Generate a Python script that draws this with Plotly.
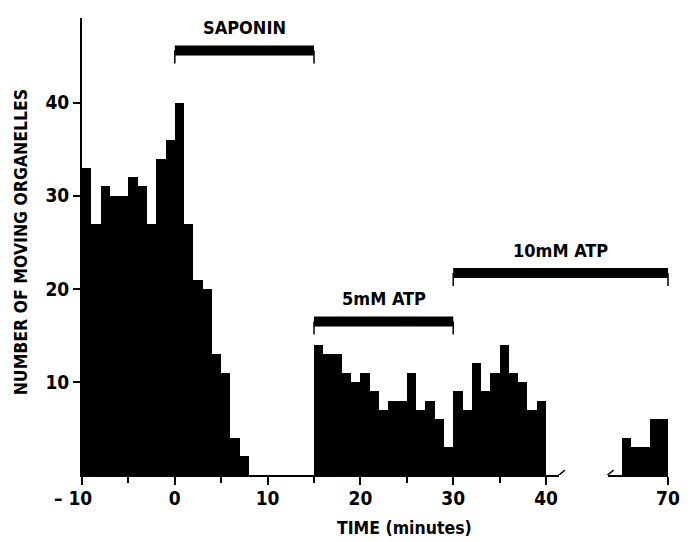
import plotly.graph_objects as go

# ---------------- data ----------------
bin_start_early = list(range(-10, 40))          # 1-min bins before the axis break
counts_early = [33, 27, 31, 30, 30, 32, 31, 27, 34, 36,
                40, 27, 21, 20, 13, 11, 4, 2,
                0, 0, 0, 0, 0, 0, 0,
                14, 13, 13, 11, 10, 11, 9, 7, 8, 8, 11, 7, 8, 6, 3,
                9, 7, 12, 9, 11, 14, 11, 10, 7, 8]
bin_start_late = [65, 66, 67, 68, 69]          # 1-min bins after the axis break
counts_late = [4, 3, 3, 6, 6]

treatment_names = ["SAPONIN", "5mM ATP", "10mM ATP"]
treatment_start = [0, 15, 30]
treatment_end = [15, 30, 70]

x_tick_vals_early = [-10, 0, 10, 20, 30, 40]
x_tick_text_early = ["\u2013 10\u00a0\u00a0\u00a0", "0", "10", "20", "30", "40"]
x_minor_vals = [-5, 5, 15, 25, 35]
x_tick_vals_late = [70]
x_tick_text_late = ["70"]
y_tick_vals = [10, 20, 30, 40]
y_tick_text = ["10", "20", "30", "40"]

# ---------------- layout constants ----------------
W, H = 692, 542
M_L, M_R, M_T, M_B = 82, 19, 18, 67
PX_PER_MIN = 9.36
X1_RANGE = [-10, 41.4]
X2_RANGE = [63.5, 70]
Y_RANGE = [0, 49.1]
plot_w = W - M_L - M_R
D1 = [0, (X1_RANGE[1] - X1_RANGE[0]) * PX_PER_MIN / plot_w]
D2 = [1 - (X2_RANGE[1] - X2_RANGE[0]) * PX_PER_MIN / plot_w, 1]

bar_levels = [45.6, 16.5, 21.7]
label_levels = [48.1, 19.0, 24.1]

FONT = "Liberation Sans Narrow, Arial Narrow, DejaVu Sans Condensed, sans-serif"
INK = "black"


def axis_for(t):
    return ("x", X1_RANGE, D1) if t <= X1_RANGE[1] else ("x2", X2_RANGE, D2)


def to_paper(t):
    _, r, d = axis_for(t)
    return d[0] + (t - r[0]) / (r[1] - r[0]) * (d[1] - d[0])


fig = go.Figure()
fig.add_trace(go.Bar(x=[s + 0.5 for s in bin_start_early], y=counts_early, width=1,
                     marker=dict(color=INK, line=dict(width=0)), xaxis="x", yaxis="y",
                     showlegend=False))
fig.add_trace(go.Bar(x=[s + 0.5 for s in bin_start_late], y=counts_late, width=1,
                     marker=dict(color=INK, line=dict(width=0)), xaxis="x2", yaxis="y",
                     showlegend=False))

shapes = []
annotations = []
for name, s, e, lv, ll in zip(treatment_names, treatment_start, treatment_end,
                              bar_levels, label_levels):
    ax_s = axis_for(s)[0]
    ax_e = axis_for(e)[0]
    if ax_s == ax_e:
        xref, x0, x1 = ax_s, s, e
    else:
        xref, x0, x1 = "paper", to_paper(s), to_paper(e)
    shapes.append(dict(type="rect", xref=xref, yref="y", x0=x0, x1=x1,
                       ysizemode="pixel", yanchor=lv, y0=-5, y1=5,
                       fillcolor=INK, line=dict(width=0)))
    for xv in (x0, x1):
        shapes.append(dict(type="line", xref=xref, yref="y", x0=xv, x1=xv,
                           ysizemode="pixel", yanchor=lv, y0=0, y1=-13,
                           line=dict(color=INK, width=1.5)))
    annotations.append(dict(text=name, xref=xref, yref="y", x=(x0 + x1) / 2, y=ll,
                            showarrow=False, xanchor="center", yanchor="middle",
                            font=dict(family=FONT, size=18, color=INK, weight="bold")))

# axis-break slashes
for xp in (D1[1], D2[0]):
    shapes.append(dict(type="line", xref="paper", yref="y",
                       xsizemode="pixel", xanchor=xp, x0=-6, x1=6,
                       ysizemode="pixel", yanchor=0, y0=-5, y1=5,
                       line=dict(color=INK, width=1.5)))

# axis titles
annotations.append(dict(text="NUMBER OF MOVING ORGANELLES", textangle=-90,
                        xref="paper", yref="y", x=0, y=25.0, xshift=-61,
                        showarrow=False, xanchor="center", yanchor="middle",
                        font=dict(family=FONT, size=17.5, color=INK, weight="bold")))
annotations.append(dict(text="TIME (minutes)", xref="x", yref="paper", x=24.8, y=0,
                        yshift=-53, showarrow=False, xanchor="center", yanchor="middle",
                        font=dict(family=FONT, size=17.5, color=INK, weight="bold")))

tickfont = dict(family=FONT, size=19, color=INK, weight="bold")
common_x = dict(showline=True, linecolor=INK, linewidth=2, ticks="outside",
                ticklen=8, tickwidth=1.5, tickcolor=INK, showgrid=False,
                zeroline=False, tickfont=tickfont, anchor="y", fixedrange=True,
                ticklabelstandoff=-3)

fig.update_layout(
    width=W, height=H,
    margin=dict(l=M_L, r=M_R, t=M_T, b=M_B),
    paper_bgcolor="white", plot_bgcolor="white",
    bargap=0, showlegend=False,
    xaxis=dict(domain=D1, range=X1_RANGE, tickmode="array",
               tickvals=x_tick_vals_early, ticktext=x_tick_text_early,
               minor=dict(tickmode="array", tickvals=x_minor_vals, ticks="outside",
                          ticklen=6, tickwidth=1.5, tickcolor=INK),
               **common_x),
    xaxis2=dict(domain=D2, range=X2_RANGE, tickmode="array",
                tickvals=x_tick_vals_late, ticktext=x_tick_text_late, **common_x),
    yaxis=dict(range=Y_RANGE, showline=True, linecolor=INK, linewidth=2,
               ticks="outside", ticklen=7, tickwidth=1.5, tickcolor=INK,
               tickmode="array", tickvals=y_tick_vals, ticktext=y_tick_text,
               showgrid=False, zeroline=False, tickfont=tickfont, anchor="x",
               fixedrange=True),
    shapes=shapes,
    annotations=annotations,
)

fig.write_html("out.html", config={"displayModeBar": False},
               post_script="document.body.style.margin='0';")
